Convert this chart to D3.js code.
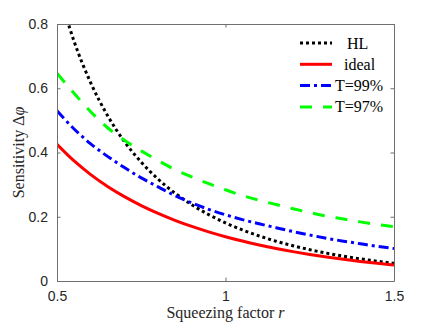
<!DOCTYPE html>
<html>
<head>
<meta charset="utf-8">
<script src="https://cdn.jsdelivr.net/npm/d3@7"></script>
<style>
  body { margin: 0; background: #fff; }
</style>
</head>
<body>
<div id="chart"></div>
<script>
/* squeezing factor r, sampled every 0.05 */
const rValues = [0.5, 0.55, 0.6, 0.65, 0.7, 0.75, 0.8, 0.85, 0.9, 0.95, 1.0,
                 1.05, 1.1, 1.15, 1.2, 1.25, 1.3, 1.35, 1.4, 1.45, 1.5];

/* sensitivity */
const hlValues = [0.921, 0.748, 0.617, 0.515, 0.434, 0.370, 0.317, 0.2735, 0.2373, 0.2068, 0.181,
                  0.159, 0.1402, 0.1238, 0.1097, 0.0974, 0.0867, 0.0772, 0.0689, 0.0616, 0.0551];
const idealValues = [0.4255, 0.3744, 0.3312, 0.2944, 0.2626, 0.2348, 0.2105, 0.189, 0.1699, 0.153, 0.1379,
                     0.1243, 0.1122, 0.1013, 0.0915, 0.0826, 0.0747, 0.0675, 0.061, 0.0552, 0.0499];
const t99Values = [0.530, 0.474, 0.427, 0.388, 0.353, 0.321, 0.293, 0.266, 0.243, 0.223, 0.206,
                   0.191, 0.178, 0.166, 0.154, 0.143, 0.133, 0.124, 0.116, 0.108, 0.101];
const t97Values = [0.647, 0.585, 0.527, 0.477, 0.438, 0.405, 0.375, 0.347, 0.324, 0.303, 0.284,
                   0.266, 0.251, 0.238, 0.225, 0.213, 0.202, 0.193, 0.184, 0.176, 0.169];

const seriesNames = ["HL", "ideal", "T=99%", "T=97%"];
const xTicks = [0.5, 1, 1.5];
const yTicks = [0, 0.2, 0.4, 0.6, 0.8];

document.addEventListener('DOMContentLoaded', function(){

    const w = 436;
    const h = 327;
    const left = 57, right = 394, top = 24, bottom = 281;

    const series = [
        {name: seriesNames[0], values: hlValues,    color: "#000000", dash: "3,3"},
        {name: seriesNames[1], values: idealValues, color: "#ff0000", dash: null},
        {name: seriesNames[2], values: t99Values,   color: "#0000ff", dash: "10,4,3,4"},
        {name: seriesNames[3], values: t97Values,   color: "#00ff00", dash: "12,11"}
    ];

    const xScale = d3.scaleLinear().domain([0.5, 1.5]).range([left, right]);
    const yScale = d3.scaleLinear().domain([0, 0.8]).range([bottom, top]);

    const svg = d3.select("#chart")
        .append("svg")
        .attr("width", w)
        .attr("height", h);

    svg.append("defs").append("clipPath")
        .attr("id", "plotArea")
        .append("rect")
        .attr("x", left).attr("y", top)
        .attr("width", right - left).attr("height", bottom - top);

    const line = d3.line()
        .x((d) => xScale(d[0]))
        .y((d) => yScale(d[1]))
        .curve(d3.curveMonotoneX);

    /* curves */
    svg.append("g")
        .attr("clip-path", "url(#plotArea)")
        .selectAll("path")
        .data(series)
        .enter()
        .append("path")
        .attr("d", (s) => line(rValues.map((r, i) => [r, s.values[i]])))
        .attr("fill", "none")
        .attr("stroke", (s) => s.color)
        .attr("stroke-width", 3)
        .attr("stroke-dasharray", (s) => s.dash);

    /* axes, MATLAB style: box with inward ticks on all sides */
    const axisColor = "#6f6f6f";
    const tickFont = "'Liberation Sans', Arial, sans-serif";

    const xAxis = d3.axisBottom(xScale).tickValues(xTicks).tickSizeInner(-3.5).tickSizeOuter(0)
        .tickPadding(10).tickFormat(d3.format("~g"));
    const yAxis = d3.axisLeft(yScale).tickValues(yTicks).tickSizeInner(-3.5).tickSizeOuter(0)
        .tickPadding(9).tickFormat(d3.format("~g"));
    const xAxisTop = d3.axisTop(xScale).tickValues(xTicks).tickSizeInner(-3.5).tickSizeOuter(0).tickFormat("");
    const yAxisRight = d3.axisRight(yScale).tickValues(yTicks).tickSizeInner(-3.5).tickSizeOuter(0).tickFormat("");

    const gx = svg.append("g").attr("transform", "translate(0," + bottom + ")").call(xAxis);
    const gy = svg.append("g").attr("transform", "translate(" + left + ",0)").call(yAxis);
    const gxt = svg.append("g").attr("transform", "translate(0," + top + ")").call(xAxisTop);
    const gyr = svg.append("g").attr("transform", "translate(" + right + ",0)").call(yAxisRight);

    [gx, gy, gxt, gyr].forEach(function(g){
        g.selectAll("path, line").attr("stroke", axisColor).attr("stroke-width", 1);
        g.selectAll("text")
            .attr("fill", "#262626")
            .style("font-family", tickFont)
            .style("font-size", "14px");
    });

    /* axis labels */
    const serif = "'Liberation Serif', 'Times New Roman', serif";

    const xLabel = svg.append("text")
        .attr("x", (left + right) / 2)
        .attr("y", 318)
        .attr("text-anchor", "middle")
        .style("font-family", serif)
        .style("font-size", "16px")
        .attr("fill", "#262626");
    xLabel.append("tspan").text("Squeezing factor ");
    xLabel.append("tspan").style("font-style", "italic").text("r");

    const yLabel = svg.append("text")
        .attr("transform", "translate(24," + (top + bottom) / 2 + ") rotate(-90)")
        .attr("text-anchor", "middle")
        .style("font-family", serif)
        .style("font-size", "16px")
        .attr("fill", "#262626");
    yLabel.append("tspan").text("Sensitivity \u0394");
    yLabel.append("tspan").style("font-style", "italic").text("\u03c6");

    /* legend, no box */
    const legendX = [347, 344, 335, 335];
    const legend = svg.append("g")
        .selectAll("g")
        .data(series)
        .enter()
        .append("g")
        .attr("transform", (s, i) => "translate(0," + (43 + i * 21.3) + ")");

    legend.append("line")
        .attr("x1", 300).attr("x2", 332)
        .attr("y1", 0).attr("y2", 0)
        .attr("stroke", (s) => s.color)
        .attr("stroke-width", 3)
        .attr("stroke-dasharray", (s) => s.dash);

    legend.append("text")
        .attr("x", (s, i) => legendX[i])
        .attr("y", 5.5)
        .style("font-family", serif)
        .style("font-size", "16px")
        .attr("fill", "#000")
        .text((s) => s.name);
});
</script>
</body>
</html>
